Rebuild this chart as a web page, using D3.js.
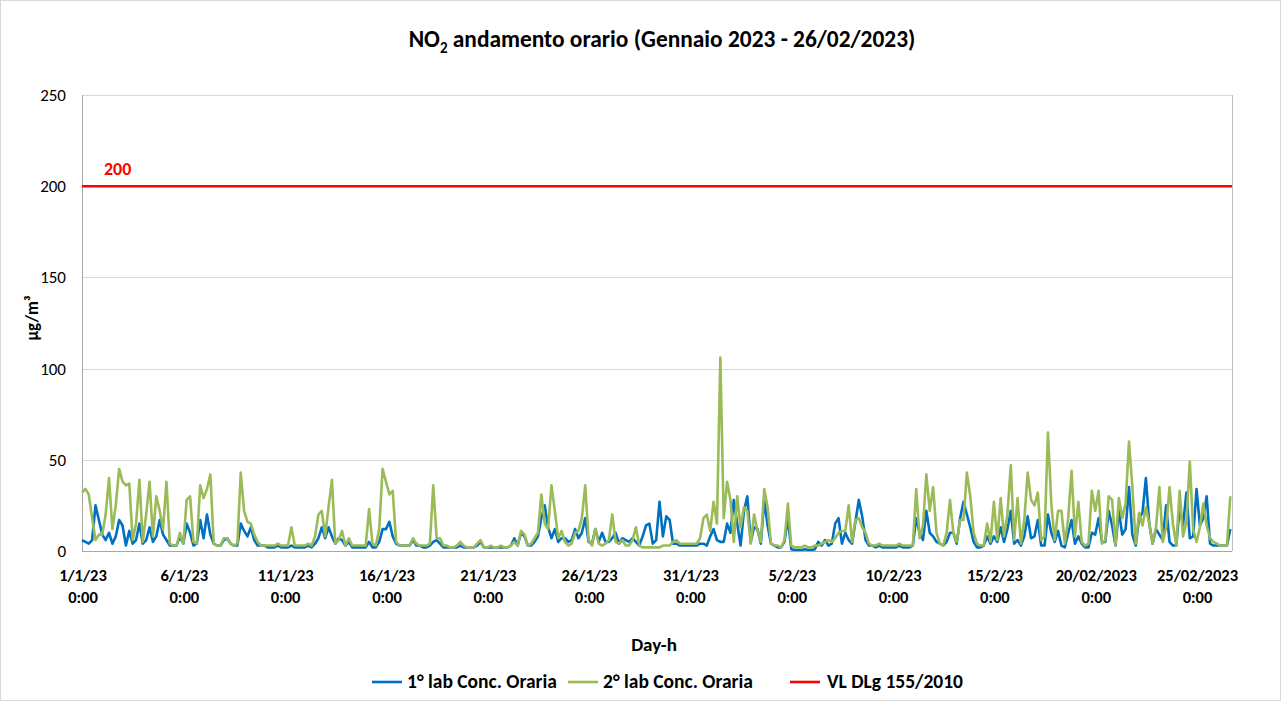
<!DOCTYPE html>
<html>
<head>
<meta charset="utf-8">
<script src="https://cdn.jsdelivr.net/npm/d3@7"></script>
<style>
  html, body { margin: 0; padding: 0; background: #fff; }
  svg { display: block; font-family: Carlito, Lato, "Open Sans", sans-serif; }
</style>
</head>
<body>
<div id="chart"></div>
<script>
// hourly NO2 readings, sampled every 4 hours (0,4,8,12,16,20) from 1/1/2023 0:00
var startDate = new Date(2023, 0, 1, 0);
var stepHours = 4;

var lab1 = [
  6, 5, 4, 6, 25, 17,   9, 6, 10, 4, 8, 17,   14, 3, 11, 4, 6, 15,   4, 6, 13, 5, 8, 17,
  9, 6, 3, 3, 3, 8,     4, 15, 10, 3, 4, 17,  7, 20, 9, 4, 3, 3,     6, 7, 4, 3, 3, 15,
  11, 8, 13, 6, 3, 3,   3, 2, 2, 2, 3, 2,     2, 2, 3, 2, 2, 2,      2, 3, 2, 4, 7, 13,
  7, 13, 8, 4, 7, 6,    3, 5, 2, 2, 2, 2,     2, 5, 2, 2, 5, 12,     12, 16, 8, 4, 3, 3,
  3, 3, 6, 3, 3, 2,     2, 3, 5, 6, 4, 2,     2, 2, 2, 2, 3, 2,      2, 2, 2, 3, 5, 2,
  2, 2, 2, 2, 2, 2,     2, 3, 7, 3, 10, 8,    3, 3, 5, 8, 18, 25,    13, 7, 12, 5, 7, 7,
  5, 6, 12, 7, 10, 18,  5, 4, 12, 5, 10, 5,   5, 7, 10, 4, 7, 6,     5, 7, 5, 3, 8, 14,
  15, 4, 6, 27, 8, 19,  17, 4, 4, 3, 3, 3,    3, 3, 3, 4, 4, 3,      8, 12, 6, 5, 5, 15,
  10, 28, 15, 3, 22, 30, 5, 13, 12, 4, 28, 14, 4, 3, 2, 2, 5, 18,    1, 0.5, 0.5, 0.5, 1, 0.5,
  0.5, 1, 5, 3, 6, 3,   4, 15, 18, 4, 10, 6,  4, 16, 28, 19, 6, 3,   3, 2, 3, 2, 2, 2,
  2, 2, 3, 2, 2, 2,     3, 18, 10, 6, 22, 10, 8, 5, 4, 3, 5, 10,     10, 4, 18, 27, 20, 13,
  5, 2, 2, 3, 8, 4,     8, 5, 13, 5, 12, 22,  4, 6, 3, 8, 19, 7,     8, 17, 3, 3, 20, 10,
  5, 11, 3, 2, 10, 17,  4, 8, 4, 2, 2, 10,    9, 18, 5, 5, 22, 14,   3, 22, 9, 12, 35, 9,
  3, 18, 21, 40, 15, 4, 12, 9, 6, 25, 5, 3,   3, 24, 14, 32, 7, 8,   34, 14, 18, 30, 4, 3,
  3, 3, 3, 3, 12
];

var lab2 = [
  32, 34, 31, 18, 6, 9,  9, 20, 40, 12, 25, 45, 38, 36, 37, 6, 15, 39, 5, 20, 38, 8, 30, 22,
  12, 38, 4, 3, 3, 10,   4, 28, 30, 5, 4, 36,   29, 34, 42, 4, 3, 3,   7, 7, 4, 3, 4, 43,
  22, 16, 15, 9, 5, 3,   3, 3, 3, 3, 4, 3,      3, 3, 13, 3, 3, 3,     3, 4, 3, 8, 20, 22,
  8, 24, 39, 4, 6, 11,   3, 7, 3, 3, 3, 3,      3, 23, 4, 3, 12, 45,   38, 31, 33, 5, 3, 3,
  3, 3, 7, 4, 3, 3,      3, 4, 36, 7, 7, 3,     3, 2, 2, 3, 5, 3,      2, 2, 2, 4, 6, 2,
  2, 3, 2, 2, 3, 2,      2, 3, 5, 3, 11, 9,     3, 4, 7, 10, 31, 15,   12, 36, 22, 7, 11, 5,
  3, 4, 10, 11, 18, 36,  6, 3, 12, 4, 3, 4,     6, 20, 5, 4, 6, 3,     3, 6, 13, 3, 2, 2,
  2, 2, 2, 2, 3, 3,      3, 5, 6, 4, 4, 4,      4, 4, 4, 7, 18, 20,    11, 27, 15, 106, 18, 38,
  28, 5, 30, 13, 24, 22, 4, 20, 11, 5, 34, 24,  4, 3, 3, 2, 6, 26,     3, 2, 2, 2, 3, 2,
  2, 3, 3, 4, 5, 6,      5, 7, 10, 11, 11, 25,  5, 17, 18, 13, 10, 4,  3, 3, 4, 3, 3, 3,
  3, 3, 4, 3, 3, 3,      3, 34, 7, 14, 42, 22,  35, 10, 4, 3, 10, 28,  10, 5, 17, 17, 43, 30,
  10, 4, 3, 3, 15, 5,    27, 6, 29, 8, 20, 47,  6, 29, 4, 17, 43, 28,  25, 32, 6, 8, 65, 26,
  6, 22, 22, 4, 18, 44,  8, 27, 5, 3, 4, 33,    22, 33, 4, 6, 30, 28,  3, 29, 18, 26, 60, 35,
  4, 21, 14, 24, 15, 4,  13, 35, 5, 13, 35, 15, 3, 33, 8, 16, 49, 12,  5, 13, 26, 14, 7, 5,
  4, 3, 3, 3, 30
];

var limitValue = 200;
var yTicks = [0, 50, 100, 150, 200, 250];
var xTickDates = [
  new Date(2023, 0, 1), new Date(2023, 0, 6), new Date(2023, 0, 11), new Date(2023, 0, 16),
  new Date(2023, 0, 21), new Date(2023, 0, 26), new Date(2023, 0, 31), new Date(2023, 1, 5),
  new Date(2023, 1, 10), new Date(2023, 1, 15), new Date(2023, 1, 20), new Date(2023, 1, 25)
];
var xTickLabels = ['1/1/23', '6/1/23', '11/1/23', '16/1/23', '21/1/23', '26/1/23', '31/1/23',
  '5/2/23', '10/2/23', '15/2/23', '20/02/2023', '25/02/2023'];
var seriesNames = ['1° lab Conc. Oraria', '2° lab Conc. Oraria', 'VL DLg 155/2010'];
var seriesColors = ['#0070c0', '#9bbb59', '#ff0000'];

var W = 1282, H = 702;
var plotL = 82, plotR = 1232, plotT = 95, plotB = 551;

var svg = d3.select('#chart').append('svg').attr('width', W).attr('height', H);
svg.append('rect').attr('x', 0.5).attr('y', 0.5).attr('width', W - 2).attr('height', H - 2)
  .attr('fill', '#fff').attr('stroke', '#d9d9d9');

var x = d3.scaleTime()
  .domain([startDate, new Date(2023, 1, 26, 18)])
  .range([plotL, plotR]);
var y = d3.scaleLinear().domain([0, 250]).range([plotB, plotT]);

function toPoints(arr) {
  return arr.map(function(v, i) {
    return { t: d3.timeHour.offset(startDate, i * stepHours), v: v };
  });
}

// gridlines
svg.append('g').selectAll('line').data(yTicks.filter(function(d){ return d > 0; })).join('line')
  .attr('x1', plotL).attr('x2', plotR)
  .attr('y1', function(d){ return Math.round(y(d)) + 0.5; })
  .attr('y2', function(d){ return Math.round(y(d)) + 0.5; })
  .attr('stroke', '#d9d9d9').attr('stroke-width', 1);

// plot frame
svg.append('line').attr('x1', plotL + 0.5).attr('x2', plotL + 0.5).attr('y1', plotT).attr('y2', plotB)
  .attr('stroke', '#a6a6a6');
svg.append('line').attr('x1', plotR + 0.5).attr('x2', plotR + 0.5).attr('y1', plotT).attr('y2', plotB)
  .attr('stroke', '#bfbfbf');

// y axis labels
var yAxis = d3.axisLeft(y).tickValues(yTicks).tickSize(0).tickPadding(16);
var yg = svg.append('g').attr('transform', 'translate(' + plotL + ',0)').call(yAxis);
yg.select('.domain').remove();
yg.selectAll('text').attr('font-size', 17).attr('fill', '#000').style('font-family', 'Carlito, Lato, sans-serif');

svg.append('text')
  .attr('transform', 'translate(38,' + ((plotT + plotB) / 2 - 5) + ') rotate(-90)')
  .attr('text-anchor', 'middle').attr('font-size', 17).attr('font-weight', 700)
  .text('µg/m³');

// lines
var line = d3.line()
  .x(function(d){ return x(d.t); })
  .y(function(d){ return y(d.v); });

svg.append('path').datum(toPoints(lab1))
  .attr('d', line).attr('fill', 'none')
  .attr('stroke', seriesColors[0]).attr('stroke-width', 2.6).attr('stroke-linejoin', 'round');
svg.append('path').datum(toPoints(lab2))
  .attr('d', line).attr('fill', 'none')
  .attr('stroke', seriesColors[1]).attr('stroke-width', 2.6).attr('stroke-linejoin', 'round');

// limit value
svg.append('line')
  .attr('x1', plotL).attr('x2', plotR)
  .attr('y1', y(limitValue)).attr('y2', y(limitValue))
  .attr('stroke', seriesColors[2]).attr('stroke-width', 2.4);
svg.append('text')
  .attr('x', plotL + 22).attr('y', y(limitValue) - 11)
  .attr('font-size', 18).attr('font-weight', 700).attr('fill', seriesColors[2])
  .text(limitValue);

// bottom axis line
svg.append('line').attr('x1', plotL).attr('x2', plotR)
  .attr('y1', plotB + 0.5).attr('y2', plotB + 0.5).attr('stroke', '#a6a6a6');

// x tick labels
var xl = svg.append('g').selectAll('text').data(xTickDates).join('text')
  .attr('x', function(d){ return x(d) + 1; })
  .attr('y', plotB + 30)
  .attr('text-anchor', 'middle').attr('font-size', 16.5).attr('font-weight', 700);
xl.append('tspan').text(function(d, i){ return xTickLabels[i]; });
xl.append('tspan').attr('x', function(d){ return x(d) + 1; }).attr('dy', 22).text('0:00');

svg.append('text').attr('x', 654).attr('y', 651)
  .attr('text-anchor', 'middle').attr('font-size', 19).attr('font-weight', 700)
  .text('Day-h');

// title
var title = svg.append('text').attr('x', 662).attr('y', 47)
  .attr('text-anchor', 'middle').attr('font-size', 23.4).attr('font-weight', 700);
title.append('tspan').text('NO');
title.append('tspan').attr('font-size', 15).attr('dy', 6).text('2');
title.append('tspan').attr('dy', -6).text(' andamento orario (Gennaio 2023 - 26/02/2023)');

// legend
var legendX = [372, 568, 790];
var lg = svg.append('g').selectAll('g').data(seriesNames).join('g')
  .attr('transform', function(d, i){ return 'translate(' + legendX[i] + ',682)'; });
lg.append('line').attr('x1', 0).attr('x2', 30).attr('y1', 0).attr('y2', 0)
  .attr('stroke', function(d, i){ return seriesColors[i]; }).attr('stroke-width', 2.6);
lg.append('text').attr('x', function(d, i){ return i === 2 ? 37 : 35; }).attr('y', 6)
  .attr('font-size', 19.5).attr('font-weight', 700)
  .text(function(d){ return d; });
</script>
</body>
</html>
